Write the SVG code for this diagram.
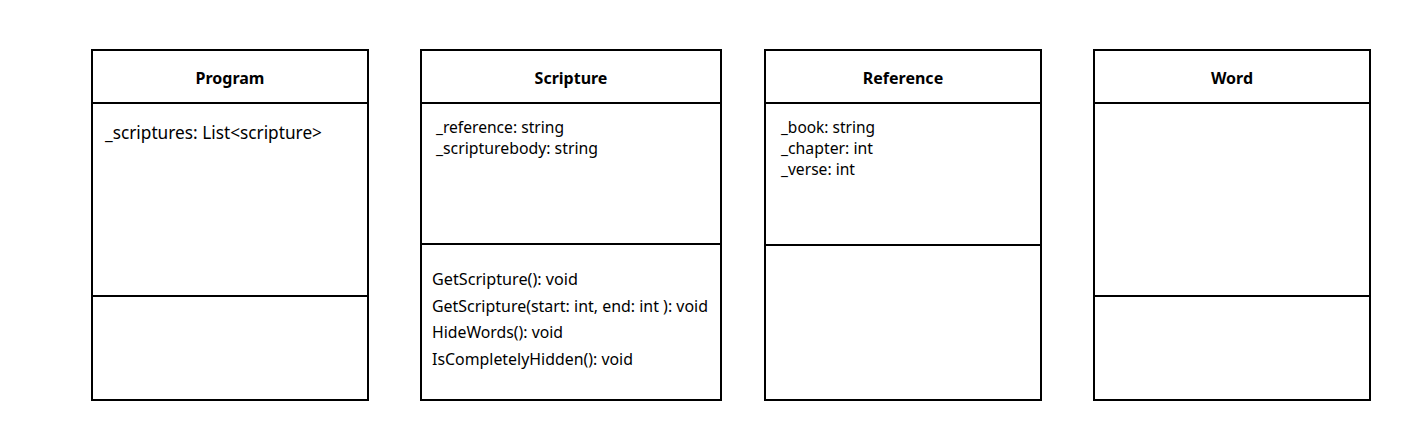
<svg xmlns="http://www.w3.org/2000/svg" width="1407" height="443" viewBox="0 0 1407 443">
<style>
.box{fill:#fff;stroke:#000;stroke-width:2}
.ln{stroke:#000;stroke-width:2}
.t{font-family:"Noto Sans","Open Sans",sans-serif;font-size:16px;font-weight:bold;text-anchor:middle;fill:#000}
.a{font-family:"Noto Sans","Open Sans",sans-serif;font-size:16.5px;fill:#000}
</style>
<rect width="1407" height="443" fill="#fff"/>
<g id="Program">
<rect class="box" x="92" y="50" width="276" height="350"/>
<line class="ln" x1="92" y1="103" x2="368" y2="103"/>
<line class="ln" x1="92" y1="296" x2="368" y2="296"/>
<text class="t" x="230" y="84">Program</text>
<text class="a" x="105" y="139" style="font-size:17.5px" textLength="217" lengthAdjust="spacingAndGlyphs">_scriptures: List&lt;scripture&gt;</text>
</g>
<g id="Scripture">
<rect class="box" x="421" y="50" width="300" height="350"/>
<line class="ln" x1="421" y1="103" x2="721" y2="103"/>
<line class="ln" x1="421" y1="244" x2="721" y2="244"/>
<text class="t" x="571" y="84">Scripture</text>
<text class="a" x="436" y="133" textLength="128" lengthAdjust="spacingAndGlyphs">_reference: string</text>
<text class="a" x="436" y="154" textLength="162" lengthAdjust="spacingAndGlyphs">_scripturebody: string</text>
<text class="a" x="432" y="285" textLength="146" lengthAdjust="spacingAndGlyphs">GetScripture(): void</text>
<text class="a" x="432" y="312" textLength="276" lengthAdjust="spacingAndGlyphs">GetScripture(start: int, end: int ): void</text>
<text class="a" x="432" y="338" textLength="131" lengthAdjust="spacingAndGlyphs">HideWords(): void</text>
<text class="a" x="432" y="365" textLength="201" lengthAdjust="spacingAndGlyphs">IsCompletelyHidden(): void</text>
</g>
<g id="Reference">
<rect class="box" x="765" y="50" width="276" height="350"/>
<line class="ln" x1="765" y1="103" x2="1041" y2="103"/>
<line class="ln" x1="765" y1="245" x2="1041" y2="245"/>
<text class="t" x="903" y="84">Reference</text>
<text class="a" x="781" y="133" textLength="94" lengthAdjust="spacingAndGlyphs">_book: string</text>
<text class="a" x="781" y="154" textLength="92" lengthAdjust="spacingAndGlyphs">_chapter: int</text>
<text class="a" x="781" y="175" textLength="74" lengthAdjust="spacingAndGlyphs">_verse: int</text>
</g>
<g id="Word">
<rect class="box" x="1094" y="50" width="276" height="350"/>
<line class="ln" x1="1094" y1="103" x2="1370" y2="103"/>
<line class="ln" x1="1094" y1="296" x2="1370" y2="296"/>
<text class="t" x="1232" y="84">Word</text>
</g>
<g id="connectors"/>
</svg>
